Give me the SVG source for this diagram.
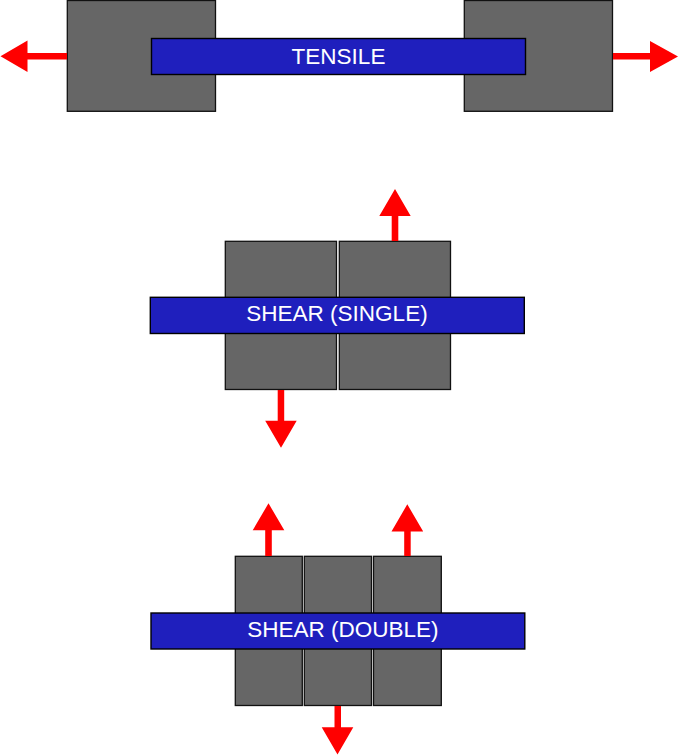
<svg xmlns="http://www.w3.org/2000/svg" width="678" height="755" viewBox="0 0 678 755">
<style>
.g{fill:#666666;stroke:#111;stroke-width:1.3}
.b{fill:#1f1fbd;stroke:#000;stroke-width:1.4}
.t{font-family:"Liberation Sans",Arial,sans-serif;font-size:22.5px;fill:#fff;text-anchor:middle}
.a{fill:#ff0000;stroke:none}
</style>
<rect width="678" height="755" fill="#fff"/>
<g id="tensile">
<rect class="g" x="67.300" y="0.500" width="148.200" height="110.800"/>
<rect class="g" x="464.300" y="0.500" width="148.200" height="110.800"/>
<rect class="b" x="151.500" y="38.500" width="374" height="36"/>
<text class="t" x="338.500" y="64">TENSILE</text>
</g>
<g id="shear-single">
<rect class="g" x="225.300" y="241.300" width="111.200" height="148.200"/>
<rect class="g" x="339.300" y="241.300" width="111.200" height="148.200"/>
<rect class="b" x="150.300" y="297.300" width="374" height="36.200"/>
<text class="t" x="337" y="321">SHEAR (SINGLE)</text>
</g>
<g id="shear-double">
<rect class="g" x="235.300" y="556.300" width="67" height="149.200"/>
<rect class="g" x="304.300" y="556.300" width="67.200" height="149.200"/>
<rect class="g" x="373.500" y="556.300" width="67.800" height="149.200"/>
<rect class="b" x="151" y="613" width="373.800" height="36"/>
<text class="t" x="342.800" y="636.500">SHEAR (DOUBLE)</text>
</g>
<g id="connectors">
<polygon class="a" points="67,53 27.500,53 27.500,40.500 0.500,56.300 27.500,72 27.500,59.500 67,59.500"/>
<polygon class="a" points="613,53 650,53 650,41 678,56.500 650,72 650,59.500 613,59.500"/>
<polygon class="a" points="391.700,241 391.700,216 379.300,216 395,189 410.700,216 398.300,216 398.300,241"/>
<polygon class="a" points="277.700,390 277.700,420.700 265.200,420.700 281,447.800 296.700,420.700 284.200,420.700 284.200,390"/>
<polygon class="a" points="265.200,556 265.200,530.300 252.700,530.300 268.500,503.300 284.300,530.300 271.800,530.300 271.800,556"/>
<polygon class="a" points="404.200,556 404.200,531.500 391.500,531.500 407.300,504.300 423.200,531.500 410.700,531.500 410.700,556"/>
<polygon class="a" points="334.500,706 334.500,727.300 321.700,727.300 337.500,754.500 353.300,727.300 341,727.300 341,706"/>
</g>
</svg>
